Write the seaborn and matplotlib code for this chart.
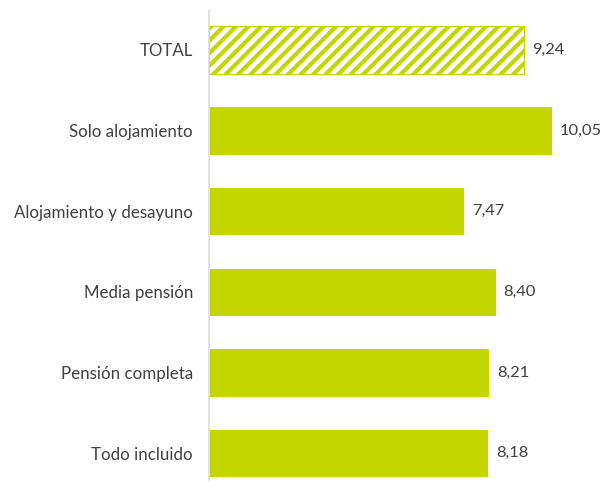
import matplotlib
matplotlib.use("Agg")
import matplotlib.pyplot as plt
import seaborn as sns
import pandas as pd

categories = ["TOTAL", "Solo alojamiento", "Alojamiento y desayuno", "Media pensión",
              "Pensión completa", "Todo incluido"]
values = [9.24, 10.05, 7.47, 8.40, 8.21, 8.18]
value_labels = ["9,24", "10,05", "7,47", "8,40", "8,21", "8,18"]

GREEN = "#C4D600"
TEXT = "#404040"

sns.set_theme(style="white")
plt.rcParams['font.family'] = ['Lato', 'DejaVu Sans']
plt.rcParams['hatch.linewidth'] = 4.0
plt.rcParams['hatch.color'] = GREEN

DPI = 75
fig = plt.figure(figsize=(605 / DPI, 481 / DPI), dpi=DPI)
W, H = 605, 481
px_per_unit = 34.13
xmax = 11.2
left, right = 209, 209 + xmax * px_per_unit
top, bottom = 10, 480
ax = fig.add_axes([left / W, 1 - bottom / H, (right - left) / W, (bottom - top) / H])

df = pd.DataFrame({"cat": categories, "val": values})
sns.barplot(data=df, x="val", y="cat", orient="h", color=GREEN, saturation=1,
            width=0.6, ax=ax)

bars = ax.patches
b0 = bars[0]
b0.set_facecolor("white")
b0.set_edgecolor(GREEN)
b0.set_hatch("//")
b0.set_linewidth(1.2)

for i, (v, lab) in enumerate(zip(values, value_labels)):
    ax.annotate(lab, xy=(v, i), xytext=(7.5, 0), textcoords="offset points",
                va="center", ha="left", fontsize=15.8, color=TEXT)

ax.set_xlim(0, xmax)
ax.set_ylim(5 + 27 / 80.6, -40 / 80.6)
ax.set_xlabel("")
ax.set_ylabel("")
ax.set_xticks([])
ax.tick_params(axis="y", length=0, pad=15.4, labelsize=16.2, labelcolor=TEXT)
for s in ["top", "right", "bottom"]:
    ax.spines[s].set_visible(False)
ax.spines["left"].set_color("#D9D9D9")
ax.spines["left"].set_linewidth(1.5)

fig.savefig("out.png", dpi=DPI)
